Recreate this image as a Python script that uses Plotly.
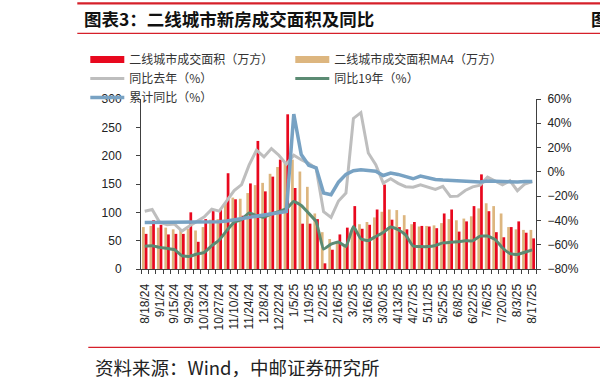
import plotly.graph_objects as go

dates = ["8/18/24","8/25/24","9/1/24","9/8/24","9/15/24","9/22/24","9/29/24","10/6/24","10/13/24","10/20/24",
         "10/27/24","11/3/24","11/10/24","11/17/24","11/24/24","12/1/24","12/8/24","12/15/24","12/22/24","12/29/24",
         "1/5/25","1/12/25","1/19/25","1/26/25","2/2/25","2/9/25","2/16/25","2/23/25","3/2/25","3/9/25",
         "3/16/25","3/23/25","3/30/25","4/6/25","4/13/25","4/20/25","4/27/25","5/4/25","5/11/25","5/18/25",
         "5/25/25","6/1/25","6/8/25","6/15/25","6/22/25","6/29/25","7/6/25","7/13/25","7/20/25","7/27/25",
         "8/3/25","8/10/25","8/17/25"]

# 二线城市成交面积（万方）
area = [62, 86, 78, 61, 62, 62, 100, 48, 88, 102,
        106, 169, 123, 94, 151, 226, 137, 163, 193, 273,
        143, 80, 80, 88, 10, 34, 61, 73, 111, 71,
        78, 105, 149, 87, 74, 70, 83, 76, 75, 72,
        98, 105, 66, 84, 111, 167, 102, 65, 56, 74,
        84, 64, 54]
# 二线城市成交面积MA4（万方）
area_ma4 = [74, 76, 73, 73, 70, 70, 71, 68, 74, 87,
            88, 116, 126, 124, 134, 148, 152, 168, 180, 190,
            193, 172, 145, 98, 65, 53, 47, 44, 70, 79,
            83, 91, 101, 105, 104, 95, 79, 75, 76, 77,
            81, 88, 86, 89, 93, 107, 116, 111, 98, 74,
            70, 69, 69]
# 同比去年（%）
yoy_last = [-32.5, -31.0, -41.5, -43.5, -43.0, -48.7, -44.5, -40.5, -37.0, -30.7,
            -32.3, -23.8, -15.4, -10.5, 5.5, 17.9, 12.3, 19.2, 13.7, 6.3,
            13.7, 10.0, 7.0, 2.8, -32.8, -37.5, -24.0, -17.5, 44.0, 48.8,
            15.5, 6.0, -9.2, -5.7, -9.5, -12.2, -12.6, -10.7, -12.6, -14.5,
            -12.0, -20.3, -20.0, -15.3, -12.4, -10.9, -4.3, -7.7, -10.7, -7.3,
            -15.5, -10.0, -8.0]
# 同比19年（%）
yoy_19 = [-61.2, -60.8, -62.2, -63.0, -64.1, -69.1, -69.6, -67.7, -66.3, -60.8,
          -56.1, -48.4, -41.5, -39.3, -33.8, -36.0, -37.4, -34.6, -32.7, -30.5,
          -24.4, -27.7, -34.1, -41.0, -63.6, -59.5, -57.8, -61.5, -45.0, -55.2,
          -56.6, -53.2, -49.9, -45.5, -47.7, -51.9, -61.0, -61.5, -61.5, -60.6,
          -58.5, -58.0, -57.5, -56.8, -56.8, -52.9, -52.9, -55.6, -62.5, -67.3,
          -68.0, -66.2, -64.2]
# 累计同比（%）
cum_yoy = [-41.7, -41.7, -41.7, -41.7, -41.7, -41.7, -41.7, -41.6, -41.5, -41.3,
           -41.0, -40.5, -39.5, -38.8, -37.5, -36.5, -35.8, -34.8, -33.7, -32.6,
           47.5, 14.3, 5.5, 3.3, -17.4, -18.8, -8.5, -2.1, 1.0, 1.7,
           1.2, 0.5, -3.0, -1.0, -2.1, -4.1, -5.7, -3.5, -4.9, -6.3,
           -6.8, -7.2, -7.7, -8.0, -8.2, -8.3, -7.5, -7.8, -8.3, -8.3,
           -8.3, -8.0, -8.0]

names = ["二线城市成交面积（万方）", "二线城市成交面积MA4（万方）", "同比去年（%）", "同比19年（%）", "累计同比（%）"]
RED, TAN, GRAY, GREEN, BLUE = "#E8081E", "#DDB67F", "#BEBEBE", "#5B8B73", "#78A2C3"

x = list(range(len(dates)))
W, H = 600, 387
L, R, T, B = 140.7, 535.7, 99.0, 268.7

def px(v):
    return (v - L) / (R - L)

def py(v):
    return (B - v) / (B - T)

fig = go.Figure()
fig.add_trace(go.Bar(x=x, y=area_ma4, marker=dict(color=TAN, line=dict(width=0)), showlegend=False, name=names[1]))
fig.add_trace(go.Bar(x=x, y=area, marker=dict(color=RED, line=dict(width=0)), showlegend=False, name=names[0]))

# legend entries
fig.add_trace(go.Scatter(x=[None], y=[None], mode="lines", line=dict(color=RED, width=7), name=names[0], legendrank=1))
fig.add_trace(go.Scatter(x=[None], y=[None], mode="lines", line=dict(color=TAN, width=7), name=names[1], legendrank=2))

fig.add_trace(go.Scatter(x=x, y=yoy_last, yaxis="y2", mode="lines", line=dict(color=GRAY, width=3),
                         name=names[2], legendrank=3))
fig.add_trace(go.Scatter(x=x, y=yoy_19, yaxis="y2", mode="lines", line=dict(color=GREEN, width=3, shape="spline", smoothing=0.4),
                         name=names[3], legendrank=4))
fig.add_trace(go.Scatter(x=x, y=cum_yoy, yaxis="y2", mode="lines", line=dict(color=BLUE, width=3.5),
                         name=names[4], legendrank=5))

axis_col = "#404040"
num_font = dict(family="Liberation Sans, Arial", size=12, color="#222222")

fig.update_layout(
    width=W, height=H,
    margin=dict(l=L, r=W - R, t=T, b=H - B, pad=0, autoexpand=False),
    paper_bgcolor="white", plot_bgcolor="white",
    barmode="group", bargap=0.27, bargroupgap=0,
    xaxis=dict(range=[-0.5, len(dates) - 0.5], tickmode="array", tickvals=x[::2], ticktext=dates[::2],
               tickangle=-90, ticks="", showline=True, linecolor=axis_col, linewidth=1, automargin=False,
               showgrid=False, zeroline=False, tickfont=dict(family="Liberation Sans, Arial", size=12, color="#222222"),
               ticklabelstandoff=9,
               minor=dict(tickmode="array", tickvals=[i - 0.5 for i in range(len(dates) + 1)], ticks="outside",
                          ticklen=4, tickcolor=axis_col, showgrid=False)),
    yaxis=dict(range=[0, 300], dtick=50, ticks="outside", ticklen=4, tickcolor=axis_col, showline=True, automargin=False,
               linecolor=axis_col, showgrid=False, zeroline=False, tickfont=num_font, ticklabelstandoff=12),
    yaxis2=dict(range=[-80, 60], dtick=20, ticksuffix="%", overlaying="y", side="right", ticks="outside",
                ticklen=4, tickcolor=axis_col, showline=True, linecolor=axis_col, showgrid=False, zeroline=False,
                tickfont=num_font, ticklabelstandoff=4, automargin=False),
    legend=dict(orientation="h", xref="paper", yref="paper", x=px(85), y=py(45),
                xanchor="left", yanchor="top", entrywidth=156, entrywidthmode="pixels",
                font=dict(family="Noto Sans CJK SC", size=12, color="#333333"),
                bgcolor="rgba(0,0,0,0)", itemwidth=34, traceorder="normal"),
    showlegend=True,
)

# frame lines of the report panel
fig.add_shape(type="line", xref="paper", yref="paper", x0=px(77), x1=px(600), y0=py(3.5), y1=py(3.5),
              line=dict(color="#D6202A", width=2.2))
fig.add_shape(type="line", xref="paper", yref="paper", x0=px(77), x1=px(600), y0=py(33.5), y1=py(33.5),
              line=dict(color="#D6202A", width=1.2))
fig.add_shape(type="line", xref="paper", yref="paper", x0=px(88), x1=px(600), y0=py(347), y1=py(347),
              line=dict(color="#D6202A", width=1.2))

fig.add_annotation(text="<b>图表3：二线城市新房成交面积及同比</b>", xref="paper", yref="paper",
                   x=px(82), y=py(19), xanchor="left", yanchor="middle", showarrow=False,
                   font=dict(family="Noto Sans CJK SC", size=17.5, color="#111111"))
fig.add_annotation(text="<b>图</b>", xref="paper", yref="paper",
                   x=px(589), y=py(19), xanchor="left", yanchor="middle", showarrow=False,
                   font=dict(family="Noto Sans CJK SC", size=17.5, color="#111111"))
fig.add_annotation(text="资料来源：Wind，中邮证券研究所", xref="paper", yref="paper",
                   x=px(93), y=py(367), xanchor="left", yanchor="middle", showarrow=False,
                   font=dict(family="Noto Sans CJK SC", size=18.5, color="#222222"))

# remove the browser's default 8px page margin so the 600x387 figure fills the window
fig.write_html("out.html", config={"displayModeBar": False},
               post_script="document.body.style.margin='0';")
